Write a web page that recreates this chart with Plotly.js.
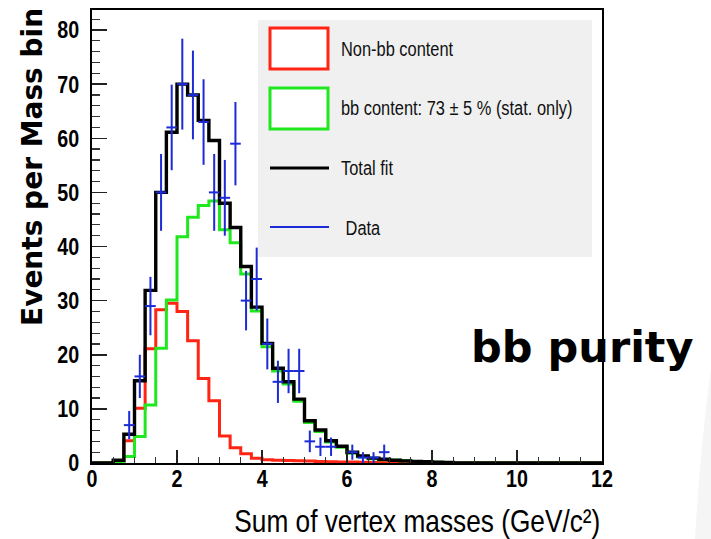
<!DOCTYPE html>
<html>
<head>
<meta charset="utf-8">
<script src="https://cdn.plot.ly/plotly-3.0.1.min.js"></script>
<style>
  html, body { margin: 0; padding: 0; background: #ffffff; }
  #chart { width: 711px; height: 539px; }
</style>
</head>
<body>
<div id="chart"></div>
<script>
// Sum of vertex masses: template fit of the b-tagged sample.
// Histograms use 0.25 GeV/c^2 bins from 0 to 12.
const binWidth = 0.25;
const nBins = 48;

// Fitted non-bb component (events per bin)
const nonBB = [0, 0, 0.3, 4.1, 10.1, 21.1, 28.3, 29.5, 28.0, 22.6, 15.6, 11.5,
               5.0, 2.8, 1.7, 0.9, 0.6, 0.5, 0.45, 0.4, 0.35, 0.3, 0.25, 0.2,
               0.2, 0.15, 0.1, 0.1, 0, 0, 0, 0, 0, 0, 0, 0,
               0, 0, 0, 0, 0, 0, 0, 0, 0, 0, 0, 0];

// Fitted bb component
const bbContent = [0, 0, 0.25, 1.2, 4.9, 10.7, 21.2, 30.1, 41.8, 45.4, 47.6, 48.4,
                   43.1, 40.7, 34.9, 28.1, 21.5, 17.0, 14.6, 11.4, 7.5, 5.8, 3.9, 2.9,
                   1.8, 1.15, 0.8, 0.6, 0.5, 0.4, 0.3, 0.25, 0.15, 0.08, 0, 0,
                   0, 0, 0, 0, 0, 0, 0, 0, 0, 0, 0, 0];

// Total fit
const totalFit = [0, 0, 0.5, 5.3, 15.2, 31.9, 50.0, 61.1, 70.0, 68.0, 63.3, 59.6,
                  48.0, 43.5, 36.3, 28.8, 22.1, 17.5, 15.0, 11.8, 7.8, 6.1, 4.1, 3.1,
                  2.0, 1.3, 0.9, 0.7, 0.5, 0.4, 0.3, 0.25, 0.15, 0.08, 0, 0,
                  0, 0, 0, 0, 0, 0, 0, 0, 0, 0, 0, 0];

// Data: bin centres, counts and their errors
const dataMass = [0.875, 1.125, 1.375, 1.625, 1.875, 2.125, 2.375, 2.625, 2.875, 3.125,
                  3.375, 3.625, 3.875, 4.125, 4.375, 4.625, 4.875, 5.125, 5.375, 5.625,
                  6.125, 6.375, 6.625, 6.875];
const dataCounts = [7, 16, 29, 50, 62, 70, 68, 63, 50, 49,
                    59, 30, 34, 22, 15, 17, 17, 4, 3, 3,
                    2, 1, 1, 2];
const dataErrors = [2.6, 4.0, 5.4, 7.1, 7.9, 8.4, 8.2, 7.9, 7.1, 7.0,
                    7.7, 5.5, 5.8, 4.7, 3.9, 4.1, 4.1, 2.0, 1.7, 1.7,
                    1.4, 1.0, 1.0, 1.4];

const legendLabels = ['Non-bb content', 'bb content: 73 \u00b1 5 % (stat. only)', 'Total fit', ' Data'];

// bin edges for step drawing
const edges = [];
for (let i = 0; i <= nBins; i++) edges.push(i * binWidth);
function stepY(vals) { return vals.concat([vals[vals.length - 1]]); }

const RED = '#ff2414';
const GREEN = '#1fe81f';
const BLUE = '#1c2bd6';

function histTrace(vals, color, width) {
  return {
    type: 'scatter', mode: 'lines', x: edges, y: stepY(vals),
    line: { shape: 'hv', color: color, width: width },
    hoverinfo: 'skip', showlegend: false
  };
}

const traces = [
  histTrace(nonBB, RED, 3),
  histTrace(bbContent, GREEN, 3),
  histTrace(totalFit, '#000000', 3.4),
  {
    type: 'scatter', mode: 'markers', x: dataMass, y: dataCounts,
    marker: { size: 1, color: 'rgba(0,0,0,0)' },
    error_x: { type: 'constant', value: binWidth / 2, width: 0, thickness: 2, color: BLUE },
    error_y: { type: 'data', array: dataErrors, width: 0, thickness: 2, color: BLUE },
    showlegend: false, hoverinfo: 'skip'
  }
];

// Frame geometry (pixels) and helpers to place layout items in paper units
const M = { l: 92, r: 109, t: 10, b: 76 };
const W = 711, H = 539;
const pw = W - M.l - M.r, ph = H - M.t - M.b;
const px = v => (v - M.l) / pw;
const py = v => (H - M.b - v) / ph;

const SANS = 'Liberation Sans, Arial, sans-serif';
const labelFont = { family: SANS, size: 24, weight: 'bold', color: '#000' };
const legFont = { family: SANS, size: 20, color: '#111' };

const shapes = [
  // faint page edge on the right
  { type: 'path', xref: 'paper', yref: 'paper', layer: 'below',
    path: `M ${px(711)},${py(368)} Q ${px(700)},${py(450)} ${px(695)},${py(539)} L ${px(711)},${py(539)} Z`,
    fillcolor: '#f5f5f5', line: { width: 0 } },
  // legend panel
  { type: 'rect', xref: 'paper', yref: 'paper', x0: px(258), x1: px(592), y0: py(257), y1: py(20),
    fillcolor: '#f0f0f0', line: { width: 0 } },
  { type: 'rect', xref: 'paper', yref: 'paper', x0: px(270), x1: px(328), y0: py(69), y1: py(28),
    fillcolor: '#ffffff', line: { color: RED, width: 3 } },
  { type: 'rect', xref: 'paper', yref: 'paper', x0: px(270), x1: px(328), y0: py(129), y1: py(88),
    fillcolor: '#ffffff', line: { color: GREEN, width: 3 } },
  { type: 'line', xref: 'paper', yref: 'paper', x0: px(270), x1: px(329), y0: py(168), y1: py(168),
    line: { color: '#000', width: 3 } },
  { type: 'line', xref: 'paper', yref: 'paper', x0: px(270), x1: px(329), y0: py(227), y1: py(227),
    line: { color: BLUE, width: 2 } }
];

const legY = [49, 108, 168, 228];
const annotations = legendLabels.map((t, i) => ({
  xref: 'paper', yref: 'paper', x: px(339), y: py(legY[i]), xanchor: 'left', yanchor: 'middle',
  text: t, showarrow: false, font: legFont
}));

annotations.push(
  { xref: 'paper', yref: 'paper', x: 1, y: py(521), xanchor: 'right', yanchor: 'middle',
    text: 'Sum of vertex masses (GeV/c\u00b2)', showarrow: false,
    font: { family: SANS, size: 32, color: '#000' } },
  { xref: 'paper', yref: 'paper', x: px(32), y: py(167), xanchor: 'center', yanchor: 'middle',
    text: 'Events per Mass bin', textangle: -90, showarrow: false,
    font: { family: 'DejaVu Sans, sans-serif', size: 28, weight: 'bold', color: '#000' } },
  { xref: 'paper', yref: 'paper', x: px(469), y: py(347), xanchor: 'left', yanchor: 'middle',
    text: 'bb purity', showarrow: false,
    font: { family: 'DejaVu Sans, sans-serif', size: 43, weight: 'bold', color: '#000' } }
);

const layout = {
  width: W, height: H,
  margin: M,
  paper_bgcolor: '#ffffff', plot_bgcolor: '#ffffff',
  showlegend: false,
  xaxis: {
    range: [0, 12], dtick: 2, tick0: 0,
    ticks: 'inside', ticklen: 13, tickwidth: 1.5, tickcolor: '#222',
    minor: { dtick: 0.5, ticks: 'inside', ticklen: 6, tickwidth: 1.2, tickcolor: '#333' },
    showline: true, linecolor: '#000', linewidth: 2, mirror: true,
    showgrid: false, zeroline: false, tickfont: labelFont
  },
  yaxis: {
    range: [0, 83.7], dtick: 10, tick0: 0,
    ticks: 'inside', ticklen: 15, tickwidth: 1.5, tickcolor: '#222',
    minor: { dtick: 2, ticks: 'inside', ticklen: 8, tickwidth: 1.2, tickcolor: '#333' },
    showline: true, linecolor: '#000', linewidth: 2, mirror: true,
    showgrid: false, zeroline: false, tickfont: labelFont, ticklabelstandoff: 6
  },
  shapes: shapes,
  annotations: annotations
};

// Narrow the Helvetica-style labels horizontally (condensed look),
// keeping each text's anchor edge (0 = left, 0.5 = centre, 1 = right) in place.
const NARROW = 0.82;
function narrow(el, anchorFrac) {
  const w = el.getComputedTextLength();
  if (!w) return;
  const bb = el.getBBox();
  const nw = w * NARROW;
  el.setAttribute('text-anchor', 'start');
  el.setAttribute('x', bb.x + anchorFrac * (bb.width - nw));
  el.setAttribute('textLength', nw);
  el.setAttribute('lengthAdjust', 'spacingAndGlyphs');
}

Plotly.newPlot('chart', traces, layout, { staticPlot: true, displayModeBar: false }).then(gd => {
  gd.querySelectorAll('.xtick text').forEach(t => {
    narrow(t, 0.5);
    // x labels sit a little closer to the axis
    const g = t.parentNode;
    g.setAttribute('transform', ((g.getAttribute('transform') || '') + ' translate(0,-7)').trim());
  });
  gd.querySelectorAll('.ytick text').forEach(t => narrow(t, 1));
  gd.querySelectorAll('g.annotation').forEach(g => {
    const i = +g.getAttribute('data-index');
    const a = layout.annotations[i];
    if (!a || a.font.family !== SANS) return;
    const frac = a.xanchor === 'left' ? 0 : a.xanchor === 'right' ? 1 : 0.5;
    const t = g.querySelector('text.annotation-text');
    if (t) narrow(t, frac);
  });
});
</script>
</body>
</html>
